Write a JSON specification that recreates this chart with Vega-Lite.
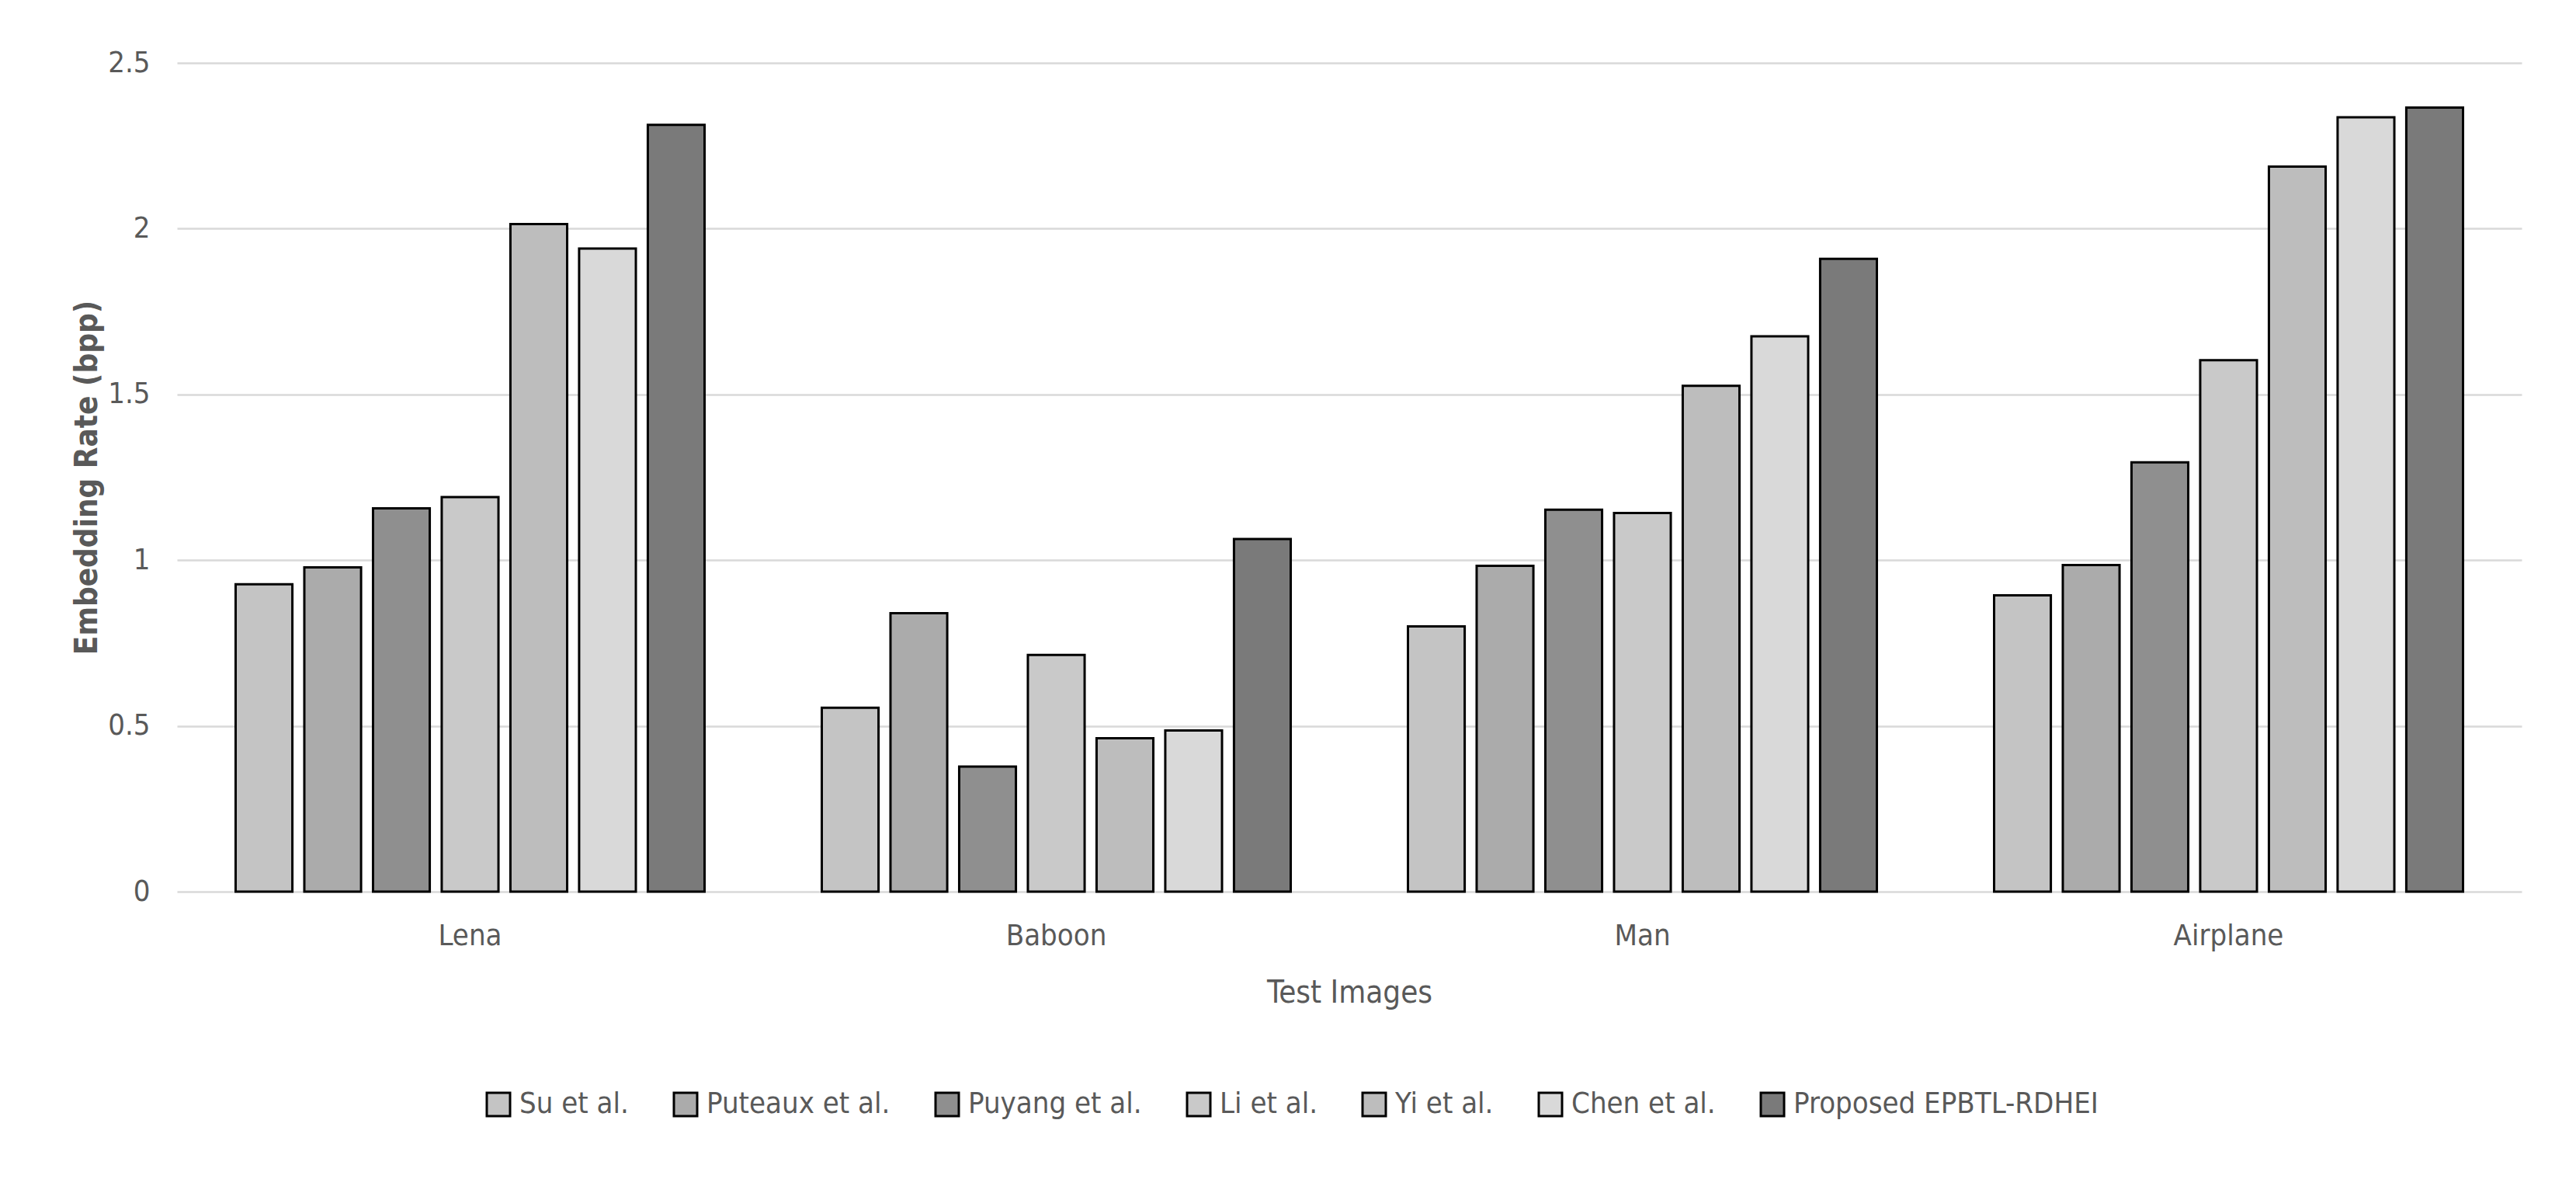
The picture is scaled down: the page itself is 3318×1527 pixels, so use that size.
{
  "$schema": "https://vega.github.io/schema/vega-lite/v6.json",
  "autosize": {"type": "none"},
  "padding": {"left": 228, "top": 81, "right": 70, "bottom": 379},
  "width": 3020,
  "height": 1067,
  "background": "white",
  "data": {"values": [
    {"image": "Lena", "method": "Su et al.", "rate": 0.927},
    {"image": "Lena", "method": "Puteaux et al.", "rate": 0.978},
    {"image": "Lena", "method": "Puyang et al.", "rate": 1.156},
    {"image": "Lena", "method": "Li et al.", "rate": 1.19},
    {"image": "Lena", "method": "Yi et al.", "rate": 2.014},
    {"image": "Lena", "method": "Chen et al.", "rate": 1.94},
    {"image": "Lena", "method": "Proposed EPBTL-RDHEI", "rate": 2.313},
    {"image": "Baboon", "method": "Su et al.", "rate": 0.555},
    {"image": "Baboon", "method": "Puteaux et al.", "rate": 0.84},
    {"image": "Baboon", "method": "Puyang et al.", "rate": 0.377},
    {"image": "Baboon", "method": "Li et al.", "rate": 0.714},
    {"image": "Baboon", "method": "Yi et al.", "rate": 0.463},
    {"image": "Baboon", "method": "Chen et al.", "rate": 0.486},
    {"image": "Baboon", "method": "Proposed EPBTL-RDHEI", "rate": 1.064},
    {"image": "Man", "method": "Su et al.", "rate": 0.8},
    {"image": "Man", "method": "Puteaux et al.", "rate": 0.983},
    {"image": "Man", "method": "Puyang et al.", "rate": 1.152},
    {"image": "Man", "method": "Li et al.", "rate": 1.142},
    {"image": "Man", "method": "Yi et al.", "rate": 1.526},
    {"image": "Man", "method": "Chen et al.", "rate": 1.675},
    {"image": "Man", "method": "Proposed EPBTL-RDHEI", "rate": 1.909},
    {"image": "Airplane", "method": "Su et al.", "rate": 0.894},
    {"image": "Airplane", "method": "Puteaux et al.", "rate": 0.985},
    {"image": "Airplane", "method": "Puyang et al.", "rate": 1.295},
    {"image": "Airplane", "method": "Li et al.", "rate": 1.603},
    {"image": "Airplane", "method": "Yi et al.", "rate": 2.187},
    {"image": "Airplane", "method": "Chen et al.", "rate": 2.336},
    {"image": "Airplane", "method": "Proposed EPBTL-RDHEI", "rate": 2.365}
  ]},
  "mark": {"type": "bar", "stroke": "black", "strokeWidth": 3},
  "encoding": {
    "x": {
      "field": "image", "type": "nominal",
      "sort": ["Lena", "Baboon", "Man", "Airplane"],
      "scale": {"paddingInner": 0.2, "paddingOuter": 0.1},
      "axis": {
        "title": "Test Images", "labelAngle": 0, "labelPadding": 38, "titlePadding": 34,
        "domain": false, "ticks": false
      }
    },
    "xOffset": {
      "field": "method", "type": "nominal",
      "sort": ["Su et al.", "Puteaux et al.", "Puyang et al.", "Li et al.", "Yi et al.", "Chen et al.", "Proposed EPBTL-RDHEI"],
      "scale": {"paddingInner": 0.174, "paddingOuter": 0}
    },
    "y": {
      "field": "rate", "type": "quantitative",
      "scale": {"domain": [0, 2.5]},
      "axis": {
        "title": "Embedding Rate (bpp)", "values": [0, 0.5, 1, 1.5, 2, 2.5],
        "domain": false, "ticks": false, "labelPadding": 35, "titlePadding": 6,
        "titleFontWeight": "bold", "titleFontSize": 40, "format": "~g"
      }
    },
    "fill": {
      "field": "method", "type": "nominal",
      "sort": ["Su et al.", "Puteaux et al.", "Puyang et al.", "Li et al.", "Yi et al.", "Chen et al.", "Proposed EPBTL-RDHEI"],
      "scale": {"range": ["#c4c4c4", "#ababab", "#8f8f8f", "#c9c9c9", "#bdbdbd", "#d9d9d9", "#7a7a7a"]},
      "legend": {
        "title": null, "orient": "none", "direction": "horizontal",
        "legendX": 395, "legendY": 1322,
        "symbolType": "square", "symbolSize": 900, "symbolStrokeColor": "black", "symbolStrokeWidth": 3,
        "labelFontSize": 38, "labelColor": "#595959", "labelOffset": 8, "columnPadding": 52,
        "labelFont": "'DejaVu Sans Condensed', sans-serif",
        "labelLimit": 0
      }
    }
  },
  "config": {
    "view": {"stroke": null},
    "axis": {
      "labelFont": "'DejaVu Sans Condensed', sans-serif",
      "titleFont": "'DejaVu Sans Condensed', sans-serif",
      "labelFontSize": 38, "titleFontSize": 40,
      "labelColor": "#595959", "titleColor": "#595959", "titleFontWeight": "normal",
      "gridColor": "#d9d9d9", "gridWidth": 2.5
    },
    "axisX": {"grid": false},
    "axisY": {"grid": true}
  }
}
